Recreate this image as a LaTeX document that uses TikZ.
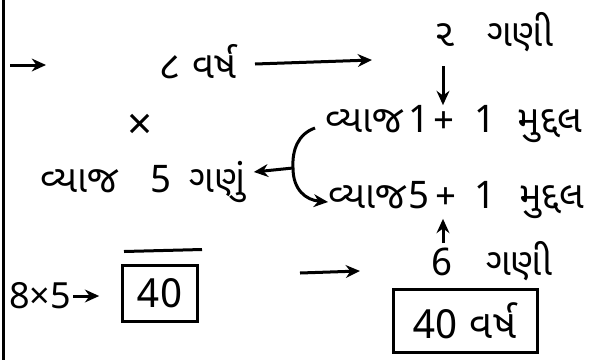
\documentclass[tikz,border=0pt]{standalone}
\usepackage{fontspec}
\setmainfont{Noto Sans}
\newfontfamily\guj[Script=Gujarati]{Noto Sans Gujarati UI}
\usepackage{tikz}
\usetikzlibrary{positioning, arrows.meta, calc}

\begin{document}
\begin{tikzpicture}[
    x=1pt, y=-1pt,
    txt/.style={inner sep=0pt, font=\guj\fontsize{38}{42}\selectfont},
    boxed/.style={draw, line width=3pt, inner sep=0pt, font=\guj\fontsize{40}{44}\selectfont},
    arr/.style={-{Stealth[length=5mm, width=4.5mm]}, line width=3pt}
]
\useasboundingbox (0,0) rectangle (600,360);

% margin line
\draw[line width=3pt] (3,0) -- (3,360);

\node[txt] (yrs) at (198,62) {૮ વર્ષ};
\node[txt, anchor=west] (twice) at (434,32) {૨\hspace{32pt}ગણી};
\node[txt, font=\fontsize{44}{48}\selectfont] (times) at (140,127) {×};
\node[txt, anchor=west] (int1) at (325,124) {વ્યાજ\hspace{5pt}1\hspace{4pt}+\hspace{20pt}1\hspace{22pt}મુદ્દલ};
\node[txt, anchor=west] (int5x) at (40,182) {વ્યાજ\hspace{32pt}5\hspace{18pt}ગણું};
\node[txt, anchor=west] (int5) at (328,200) {વ્યાજ\hspace{2pt}5\hspace{6pt}+\hspace{18pt}1\hspace{24pt}મુદ્દલ};
\node[txt, anchor=west] (six) at (431,261) {6\hspace{34pt}ગણી};
\node[txt, anchor=west, font=\fontsize{36}{40}\selectfont] (calc) at (9,296) {8×5};
\node[boxed, minimum width=75pt, minimum height=56pt] (forty) at (160,293) {40};
\node[boxed, minimum width=144pt, minimum height=63pt] (ans) at (465,321) {40 વર્ષ};

% free ends
\coordinate (s0) at (10,65);
\coordinate (e0) at (46,65);
\coordinate (s1) at (255,64);
\coordinate (e1) at (372,60);
\coordinate (s2) at (300,273);
\coordinate (e2) at (360,271);
\coordinate (fork) at (293,168);
\coordinate (d0) at (443,66);
\coordinate (u0) at (443,243);

\draw[arr] (s0) -- (e0);
\draw[arr] (s1) -- (e1);
\draw[arr] (d0) -- (d0 |- int1.north);
\draw[arr] (u0) -- (u0 |- int5.south);
\draw[arr] (calc.east) ++(2,0) -- ++(26,0);
\draw[arr] (s2) -- (e2);

% bracket
\draw[line width=3pt] ($(int1.west)+(-10,4)$) .. controls (298,134) and (292,150) .. (fork);
\draw[arr] (fork) .. controls (293,190) and (306,200) .. ($(int5.west)+(0,2)$);
\draw[arr] (fork) -- ($(int5x.east)+(8,-10)$);

% overline
\draw[line width=3pt] ($(forty.north west)+(3,-12)$) -- ++(78,-2);

\end{tikzpicture}
\end{document}
